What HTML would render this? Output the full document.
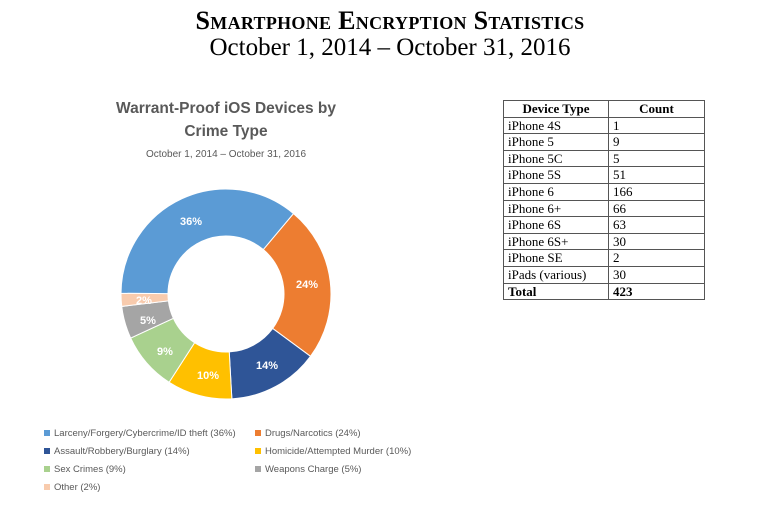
<!DOCTYPE html>
<html><head><meta charset="utf-8"><style>
body{margin:0;width:780px;height:511px;background:#fff;overflow:hidden;position:relative;font-family:"Liberation Serif",serif}
.t1{position:absolute;top:6px;left:0;width:780px;text-align:center;font-size:26px;font-weight:bold;font-variant:small-caps;letter-spacing:0.3px}
.t2{position:absolute;top:34px;left:0;width:780px;text-align:center;font-size:25px}
table{position:absolute;left:503px;top:100px;border-collapse:collapse;font-size:13px;line-height:15.6px}
td{border:1px solid #555;padding:0 4px;height:15.6px}
td:first-child{width:96px}td:nth-child(2){width:87px}
th{border:1px solid #555;font-weight:bold;padding:0 4px;height:15.6px}
</style></head><body>
<div class="t1">Smartphone Encryption Statistics</div>
<div class="t2">October 1, 2014 – October 31, 2016</div>
<svg width="780" height="511" style="position:absolute;left:0;top:0" font-family="Liberation Sans, sans-serif">
<text x="226" y="113" text-anchor="middle" font-size="15.5" font-weight="bold" fill="#595959">Warrant-Proof  iOS Devices by</text>
<text x="226" y="136" text-anchor="middle" font-size="15.5" font-weight="bold" fill="#595959">Crime Type</text>
<text x="226" y="157" text-anchor="middle" font-size="10" fill="#595959">October 1, 2014 – October 31, 2016</text>
<g id="d"></g>
<g font-size="11" font-weight="bold" fill="#fff" text-anchor="middle">
<text x="191" y="225">36%</text><text x="307" y="288">24%</text><text x="267" y="369">14%</text>
<text x="208" y="379">10%</text><text x="165" y="355">9%</text><text x="148" y="324">5%</text><text x="144" y="304">2%</text>
</g>
<g font-size="9.5" fill="#595959">
<rect x="44" y="430" width="6" height="6" fill="#5b9bd5"/><text x="54" y="436">Larceny/Forgery/Cybercrime/ID theft (36%)</text>
<rect x="255" y="430" width="6" height="6" fill="#ed7d31"/><text x="265" y="436">Drugs/Narcotics (24%)</text>
<rect x="44" y="448" width="6" height="6" fill="#2f5597"/><text x="54" y="454">Assault/Robbery/Burglary (14%)</text>
<rect x="255" y="448" width="6" height="6" fill="#ffc000"/><text x="265" y="454">Homicide/Attempted Murder (10%)</text>
<rect x="44" y="466" width="6" height="6" fill="#a9d18e"/><text x="54" y="472">Sex Crimes (9%)</text>
<rect x="255" y="466" width="6" height="6" fill="#a5a5a5"/><text x="265" y="472">Weapons Charge (5%)</text>
<rect x="44" y="484" width="6" height="6" fill="#f8cbad"/><text x="54" y="490">Other (2%)</text>
</g>
</svg>
<table>
<tr><th>Device Type</th><th>Count</th></tr>
<tr><td>iPhone 4S</td><td>1</td></tr>
<tr><td>iPhone 5</td><td>9</td></tr>
<tr><td>iPhone 5C</td><td>5</td></tr>
<tr><td>iPhone 5S</td><td>51</td></tr>
<tr><td>iPhone 6</td><td>166</td></tr>
<tr><td>iPhone 6+</td><td>66</td></tr>
<tr><td>iPhone 6S</td><td>63</td></tr>
<tr><td>iPhone 6S+</td><td>30</td></tr>
<tr><td>iPhone SE</td><td>2</td></tr>
<tr><td>iPads (various)</td><td>30</td></tr>
<tr><td><b>Total</b></td><td><b>423</b></td></tr>
</table>
<script>
var cx=226,cy=294,R=105,r=58;
var b=[40,126.4,176.8,212.8,245.2,263.2,270.4,400];
var c=["#ed7d31","#2f5597","#ffc000","#a9d18e","#a5a5a5","#f8cbad","#5b9bd5"];
function p(a,rr){a=a*Math.PI/180;return (cx+rr*Math.sin(a)).toFixed(2)+" "+(cy-rr*Math.cos(a)).toFixed(2);}
var s="";
for(var i=0;i<7;i++){var a0=b[i],a1=b[i+1],l=(a1-a0)>180?1:0;
s+='<path fill="'+c[i]+'" stroke="#fff" stroke-width="1" d="M'+p(a0,R)+' A'+R+' '+R+' 0 '+l+' 1 '+p(a1,R)+' L'+p(a1,r)+' A'+r+' '+r+' 0 '+l+' 0 '+p(a0,r)+' Z"/>';}
document.getElementById("d").innerHTML=s;
</script>
</body></html>
